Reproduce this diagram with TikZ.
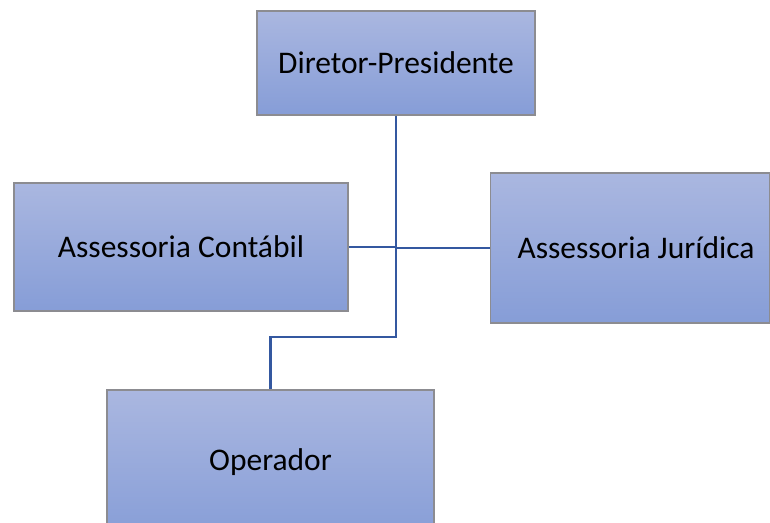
\documentclass[tikz,border=0pt]{standalone}
\usepackage{fontspec}
\setmainfont{Carlito}
\definecolor{boxtop}{RGB}{170,183,224}
\definecolor{boxbot}{RGB}{134,157,215}
\definecolor{linec}{RGB}{52,88,160}
\definecolor{boxline}{RGB}{140,140,145}
\tikzset{
  orgbox/.style={rectangle, draw=boxline, line width=1.2pt, top color=boxtop, bottom color=boxbot,
    inner sep=0pt, font=\fontsize{31.5}{36}\selectfont, text=black},
  link/.style={draw=linec, line width=2.2pt}
}
\begin{document}
\begin{tikzpicture}[x=1pt,y=-1pt]
\useasboundingbox (0,0) rectangle (770,522);
\clip (0,0) rectangle (770,522);
\node[orgbox, minimum width=278pt, minimum height=104pt] (top) at (396,63) {Diretor-Presidente};
\node[orgbox, minimum width=334pt, minimum height=128pt] (left) at (181,247) {Assessoria Contábil};
\node[orgbox, minimum width=279pt, minimum height=150pt] (right) at (630,248) {\hspace*{12pt}Assessoria Jurídica};
\node[orgbox, minimum width=327pt, minimum height=150pt] (op) at (270.5,465) {\raisebox{10pt}{Operador}};
\coordinate (bend) at (397,337);
\draw[link] (top.south) -- (top.south |- bend) -| (op.north);
\draw[link] (left.east) -- (left.east -| top.south);
\draw[link] (right.west) -- (right.west -| top.south);
\end{tikzpicture}
\end{document}
